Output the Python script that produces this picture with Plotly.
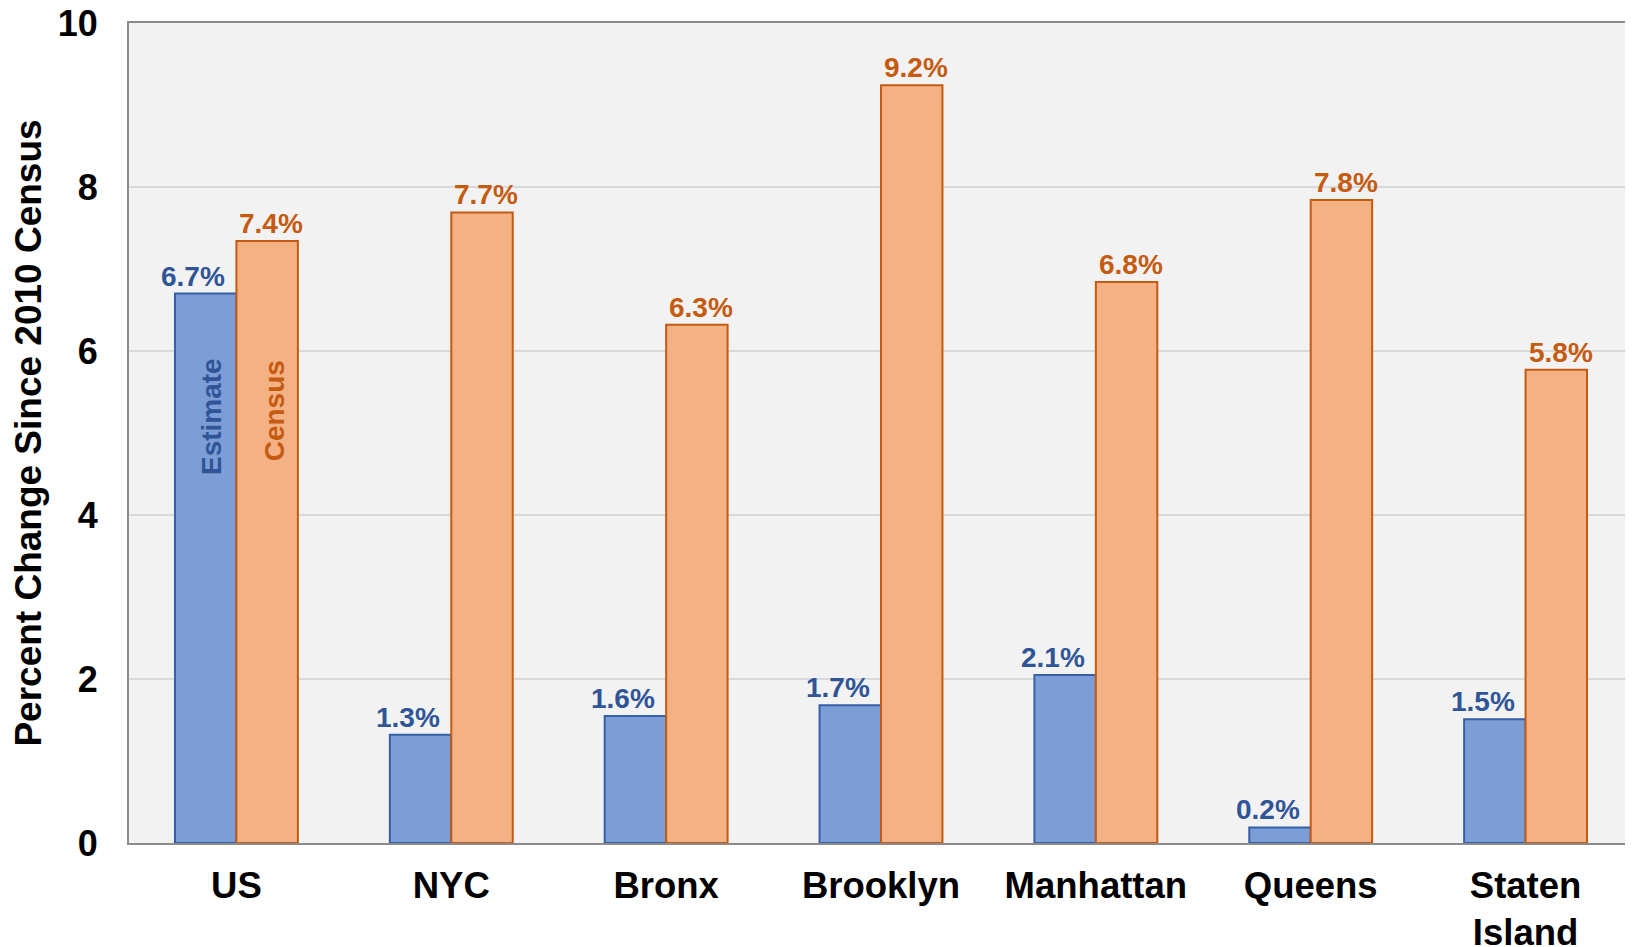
import plotly.graph_objects as go

categories = ["US", "NYC", "Bronx", "Brooklyn", "Manhattan", "Queens", "Staten<br>Island"]
estimate = [6.7, 1.32, 1.55, 1.68, 2.05, 0.19, 1.51]
census = [7.34, 7.69, 6.32, 9.24, 6.84, 7.84, 5.77]
estimate_labels = ["6.7%", "1.3%", "1.6%", "1.7%", "2.1%", "0.2%", "1.5%"]
census_labels = ["7.4%", "7.7%", "6.3%", "9.2%", "6.8%", "7.8%", "5.8%"]
y_ticks = [0, 2, 4, 6, 8, 10]

FONT = "Liberation Sans, Arial, sans-serif"
BLUE_FILL = "#7C9DD5"
BLUE_LINE = "#3560A8"
BLUE_TEXT = "#2F5597"
ORANGE_FILL = "#F4B183"
ORANGE_LINE = "#C55A11"
ORANGE_TEXT = "#C55A11"

fig = go.Figure()
fig.add_trace(go.Bar(x=categories, y=estimate, name="Estimate",
                     marker=dict(color=BLUE_FILL, line=dict(color=BLUE_LINE, width=2))))
fig.add_trace(go.Bar(x=categories, y=census, name="Census",
                     marker=dict(color=ORANGE_FILL, line=dict(color=ORANGE_LINE, width=2))))

annotations = []
for c, v, t in zip(categories, estimate, estimate_labels):
    annotations.append(dict(x=c, y=v, text="<b>%s</b>" % t, showarrow=False,
                            xanchor="center", yanchor="bottom", xshift=-43, yshift=0,
                            font=dict(family=FONT, size=28, color=BLUE_TEXT)))
for c, v, t in zip(categories, census, census_labels):
    annotations.append(dict(x=c, y=v, text="<b>%s</b>" % t, showarrow=False,
                            xanchor="center", yanchor="bottom", xshift=35, yshift=0,
                            font=dict(family=FONT, size=28, color=ORANGE_TEXT)))
annotations.append(dict(x=categories[0], y=5.2, text="<b>Estimate</b>", showarrow=False,
                        textangle=-90, xanchor="center", yanchor="middle", xshift=-25,
                        font=dict(family=FONT, size=28, color=BLUE_TEXT)))
annotations.append(dict(x=categories[0], y=5.27, text="<b>Census</b>", showarrow=False,
                        textangle=-90, xanchor="center", yanchor="middle", xshift=38,
                        font=dict(family=FONT, size=28, color=ORANGE_TEXT)))

fig.update_layout(
    width=1625, height=939,
    margin=dict(l=121, r=0, t=15, b=104),
    paper_bgcolor="white", plot_bgcolor="#F2F2F2",
    barmode="group", bargap=0.428, bargroupgap=0,
    showlegend=False,
    annotations=annotations,
    font=dict(family=FONT, color="black"),
)
fig.update_xaxes(
    automargin=False,
    showline=True, linecolor="#8C8C8C", linewidth=2, mirror=True,
    showgrid=False, ticks="", ticklabelstandoff=9, ticklabeloverflow="allow",
    tickfont=dict(family=FONT, size=36.5, color="black", weight="bold"),
)
fig.update_yaxes(
    automargin=False,
    range=[0, 10], tickvals=y_ticks,
    showline=True, linecolor="#8C8C8C", linewidth=2,
    showgrid=True, gridcolor="#D9D9D9", gridwidth=2, zeroline=False,
    ticks="", ticklabelstandoff=22, ticklabeloverflow="allow",
    tickfont=dict(family=FONT, size=36, color="black", weight="bold"),
    title=dict(text="<b>Percent Change Since 2010 Census</b>", standoff=14,
               font=dict(family=FONT, size=37, color="black")),
)

fig.write_html("out.html")
